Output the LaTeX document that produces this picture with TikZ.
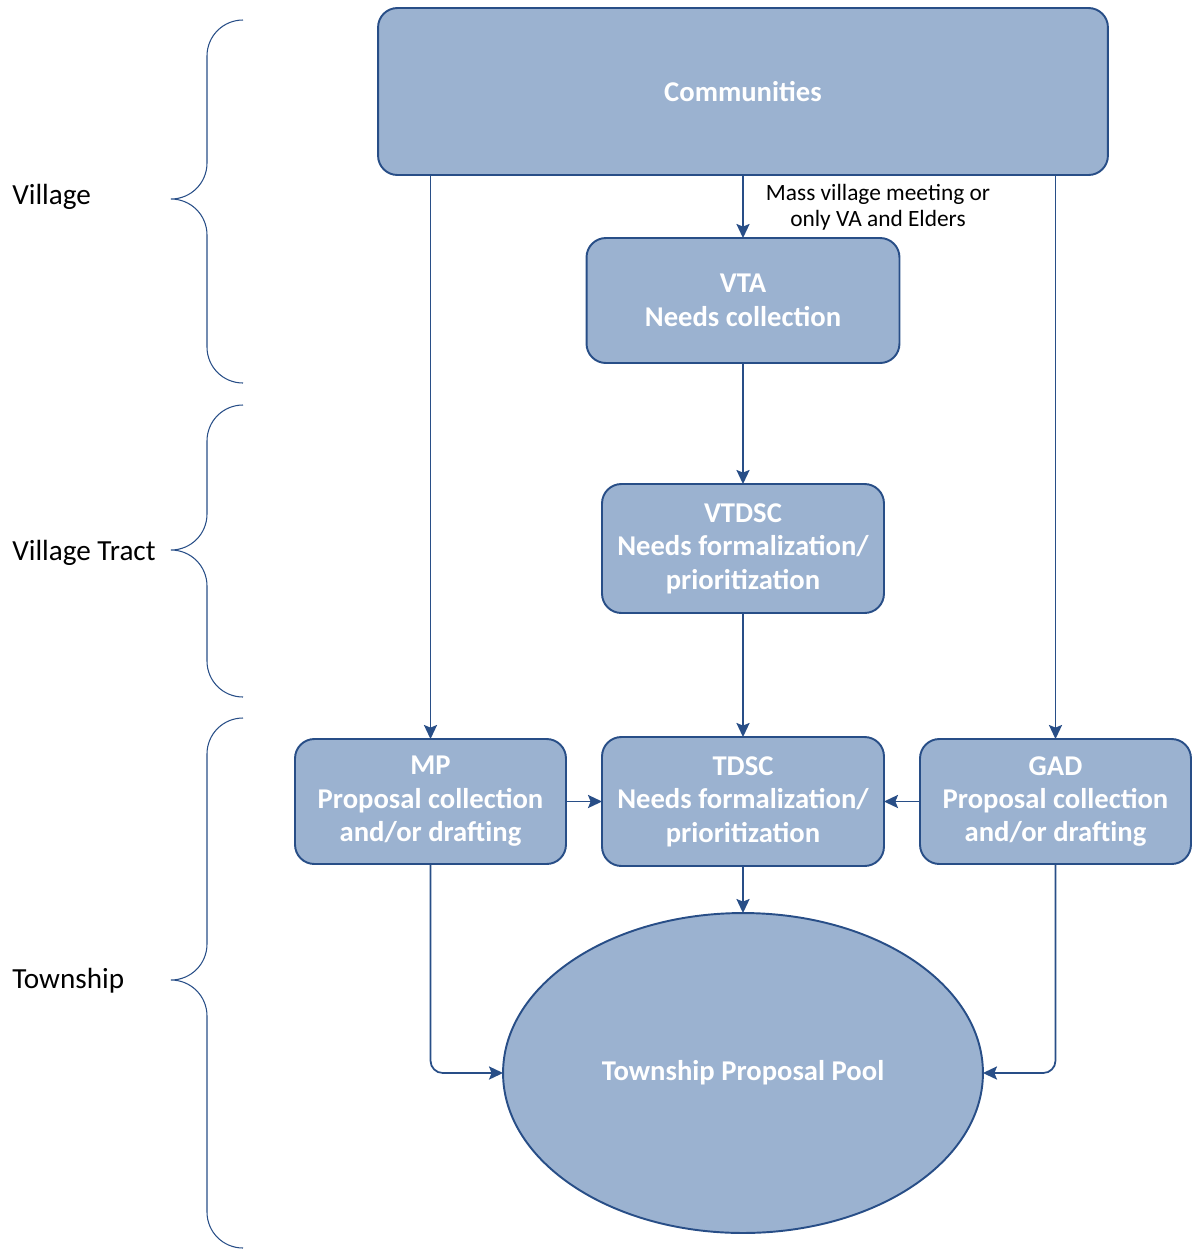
\documentclass[tikz,border=0pt]{standalone}
\usepackage{fontspec}
\setmainfont{Carlito}
\usetikzlibrary{arrows.meta, shapes.geometric}
\definecolor{boxfill}{RGB}{155,178,208}
\definecolor{boxline}{RGB}{40,78,135}
\newcommand\levelbrace[3]{%
\draw[lvlbrace] (243,#1) to[out=180,in=90] (207,{#1+36}) -- (207,{#2-36})
  to[out=-90,in=0] (171,#2) to[out=0,in=90] (207,{#2+36}) -- (207,{#3-36})
  to[out=-90,in=180] (243,#3);}

\begin{document}
\begin{tikzpicture}[x=0.02cm, y=-0.02cm,
  stage/.style={draw=boxline, fill=boxfill, line width=1.1pt, rounded corners=11pt,
    text=white, align=center, inner sep=0pt, outer sep=0pt,
    font=\bfseries\fontsize{16.3}{19}\selectfont},
  flow/.style={draw=boxline, line width=1pt, -{Stealth[length=8pt,width=7.5pt,inset=1.5pt]}},
  lvlbrace/.style={draw=boxline, line width=0.6pt},
  lvl/.style={anchor=west, inner sep=0pt, font=\fontsize{16.6}{19}\selectfont}]
\useasboundingbox (0,0) rectangle (1197,1249);

% level boxes
\node[stage, minimum width=14.6cm, minimum height=3.34cm] (comm) at (743,91.5) {Communities};
\node[stage, minimum width=6.26cm, minimum height=2.5cm] (vta) at (743,300.5) {VTA\\Needs collection};
\node[stage, minimum width=5.64cm, minimum height=2.58cm] (vtdsc) at (743,548.5) {VTDSC\\Needs formalization/\\prioritization};
\node[stage, minimum width=5.42cm, minimum height=2.5cm] (mp) at (430.5,801.5) {MP\\Proposal collection\\and/or drafting};
\node[stage, minimum width=5.64cm, minimum height=2.58cm] (tdsc) at (743,801.5) {TDSC\\Needs formalization/\\prioritization};
\node[stage, minimum width=5.42cm, minimum height=2.5cm] (gad) at (1055.5,801.5) {GAD\\Proposal collection\\and/or drafting};
\node[stage, ellipse, minimum width=9.6cm, minimum height=6.4cm] (pool) at (743,1073) {Township Proposal Pool};

\node[align=center, font=\fontsize{13.3}{15}\selectfont] (note) at (878,207) {Mass village meeting or\\only VA and Elders};

% arrows
\draw[flow] (comm.south -| vta.north) -- (vta.north);
\draw[flow] (mp.north |- comm.south) -- (mp.north);
\draw[flow] (gad.north |- comm.south) -- (gad.north);
\draw[flow] (vta) -- (vtdsc);
\draw[flow] (vtdsc) -- (tdsc);
\draw[flow] (mp) -- (tdsc);
\draw[flow] (gad) -- (tdsc);
\draw[flow] (tdsc) -- (pool);
\draw[flow, rounded corners=7pt] (mp.south) |- (pool.west);
\draw[flow, rounded corners=7pt] (gad.south) |- (pool.east);

% levels
\levelbrace{20}{199}{383}
\levelbrace{405}{550}{697}
\levelbrace{718}{980}{1248}
\node[lvl] (village) at (12,197) {Village};
\node[lvl] (tract) at (12,553) {Village Tract};
\node[lvl] (township) at (12,981) {Township};
\end{tikzpicture}
\end{document}
